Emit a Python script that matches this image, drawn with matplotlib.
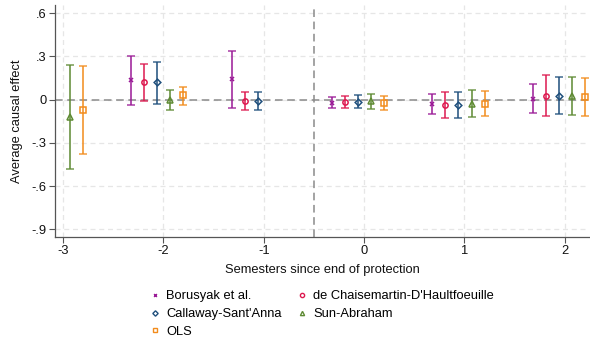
import matplotlib
matplotlib.use("Agg")
import matplotlib.pyplot as plt
from matplotlib.lines import Line2D

plt.rcParams['font.family'] = ['Liberation Sans', 'DejaVu Sans']

# Event time (semesters since end of protection)
periods = [-3, -2, -1, 0, 1, 2]

estimators = ["Borusyak et al.", "de Chaisemartin-D'Haultfoeuille",
              "Callaway-Sant'Anna", "Sun-Abraham", "OLS"]

# Point estimates and 95% bounds (None = not estimated for that period)
borusyak_est = [None, 0.133, 0.140, -0.022, -0.031, 0.006]
borusyak_lo = [None, -0.040, -0.057, -0.061, -0.103, -0.096]
borusyak_hi = [None, 0.300, 0.338, 0.017, 0.040, 0.107]

dcdh_est = [None, 0.119, -0.008, -0.017, -0.038, 0.026]
dcdh_lo = [None, -0.008, -0.073, -0.061, -0.130, -0.117]
dcdh_hi = [None, 0.244, 0.054, 0.026, 0.054, 0.170]

cs_est = [None, 0.119, -0.008, -0.017, -0.038, 0.026]
cs_lo = [None, -0.029, -0.073, -0.061, -0.128, -0.103]
cs_hi = [None, 0.262, 0.050, 0.033, 0.050, 0.156]

sa_est = [-0.119, 0.000, None, -0.008, -0.029, 0.026]
sa_lo = [-0.481, -0.073, None, -0.063, -0.121, -0.107]
sa_hi = [0.239, 0.064, None, 0.040, 0.064, 0.158]

ols_est = [-0.073, 0.029, None, -0.024, -0.029, 0.019]
ols_lo = [-0.380, -0.038, None, -0.075, -0.117, -0.117]
ols_hi = [0.234, 0.089, None, 0.026, 0.057, 0.149]

series = [
    (borusyak_est, borusyak_lo, borusyak_hi),
    (dcdh_est, dcdh_lo, dcdh_hi),
    (cs_est, cs_lo, cs_hi),
    (sa_est, sa_lo, sa_hi),
    (ols_est, ols_lo, ols_hi),
]

offsets = [-0.32, -0.19, -0.06, 0.07, 0.20]
colors = ["#9a1a96", "#dd1a50", "#1f4f7c", "#5e8a33", "#f28c1c"]
markers = ["x", "o", "D", "^", "s"]
msizes = [2.6, 3.8, 3.4, 3.8, 3.8]

yticks = [0.6, 0.3, 0, -0.3, -0.6, -0.9]
ytick_labels = [".6", ".3", "0", "-.3", "-.6", "-.9"]

FS = 9.3

fig = plt.figure(figsize=(5.9, 3.39), dpi=100)
ax = fig.add_axes([0.0932, 0.301, 0.905, 0.684])

for (est, lo, hi), off, c, m, ms in zip(series, offsets, colors, markers, msizes):
    xs, ys, el, eh = [], [], [], []
    for p, e, l, h in zip(periods, est, lo, hi):
        if e is None:
            continue
        xs.append(p + off)
        ys.append(e)
        el.append(e - l)
        eh.append(h - e)
    ax.errorbar(xs, ys, yerr=[el, eh], fmt='none', ecolor=c, elinewidth=1.3,
                capsize=2.6, capthick=1.1, alpha=0.85, zorder=3)
    ax.plot(xs, ys, linestyle='none', marker=m, markersize=ms,
            markerfacecolor='none' if m != 'x' else c, markeredgecolor=c,
            markeredgewidth=1.1, zorder=4)

# Reference lines
ax.axhline(0, color='#8a8a8a', linestyle=(0, (5, 3)), linewidth=1.1, zorder=2)
ax.axvline(-0.5, color='#8a8a8a', linestyle=(0, (5, 3)), linewidth=1.1, zorder=2)

ax.set_xlim(-3.08, 2.24)
ax.set_ylim(-0.952, 0.655)
ax.set_xticks(periods)
ax.set_xticklabels([str(p) for p in periods])
ax.set_yticks(yticks)
ax.set_yticklabels(ytick_labels)
ax.grid(True, color='#e6e6e6', linestyle=(0, (4, 3)), linewidth=0.9, zorder=0)
ax.set_axisbelow(True)

for s in ['top', 'right']:
    ax.spines[s].set_visible(False)
for s in ['left', 'bottom']:
    ax.spines[s].set_color('#555555')
    ax.spines[s].set_linewidth(0.9)
ax.tick_params(axis='both', direction='out', length=4, width=0.8, color='#555555',
               labelsize=FS, labelcolor='#111111', pad=2)

ax.set_ylabel("Average causal effect", fontsize=FS, color='#111111', labelpad=6)
ax.set_xlabel("Semesters since end of protection", fontsize=FS, color='#111111', labelpad=5)

# Legend: Borusyak, dCDH / CS, SA / OLS (row-wise)
handles = [Line2D([], [], linestyle='none', marker=m, markersize=ms * 0.8,
                  markerfacecolor='none' if m != 'x' else c, markeredgecolor=c,
                  markeredgewidth=1.0)
           for c, m, ms in zip(colors, markers, msizes)]
order = [0, 2, 4, 1, 3]
fig.legend([handles[i] for i in order], [estimators[i] for i in order],
           loc='upper left', bbox_to_anchor=(0.243, 0.163), ncol=2,
           frameon=False, fontsize=FS, handlelength=0.8, handletextpad=0.45,
           columnspacing=1.2, labelspacing=0.45, borderpad=0)

fig.savefig("out.png", dpi=100)
